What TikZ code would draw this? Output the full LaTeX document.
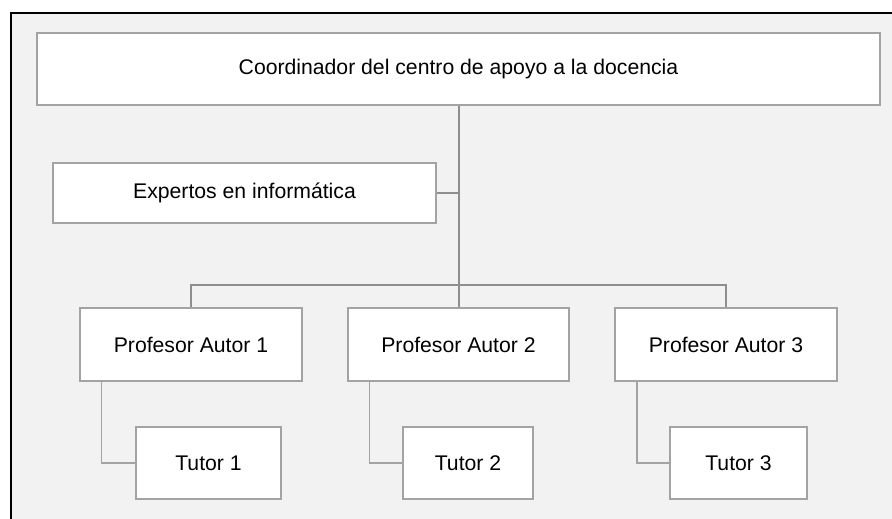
\documentclass[tikz,border=0pt]{standalone}
\usepackage{fontspec}
\setmainfont{Liberation Sans}
\definecolor{bgfill}{HTML}{F2F2F2}
\definecolor{boxline}{HTML}{A3A3A3}
\definecolor{conline}{HTML}{8E8E8E}
\begin{document}
\begin{tikzpicture}[x=1pt,y=-1pt,
  orgbox/.style={draw=boxline,line width=1.4pt,fill=white,rectangle,inner sep=0pt,
    font=\fontsize{21.2}{24}\selectfont},
  conn/.style={draw=conline,line width=1.5pt},
  tconn/.style={draw=boxline,line width=1.4pt}]
\clip (0,0) rectangle (892,519);
\fill[bgfill] (11,13) rectangle (900,530);
\draw[line width=1.6pt,black] (11,530) -- (11,13) -- (900,13);

\node[orgbox,minimum width=843pt,minimum height=72pt] (top) at (458.5,69) {Coordinador del centro de apoyo a la docencia};
\node[orgbox,minimum width=383pt,minimum height=60pt] (exp) at (244.5,193) {Expertos en informática};
\node[orgbox,minimum width=222pt,minimum height=73pt] (p1) at (191,344.5) {Profesor Autor 1};
\node[orgbox,minimum width=221pt,minimum height=73pt] (p2) at (458.5,344.5) {Profesor Autor 2};
\node[orgbox,minimum width=222pt,minimum height=73pt] (p3) at (726,344.5) {Profesor Autor 3};
\node[orgbox,minimum width=145pt,minimum height=72pt] (t1) at (208.5,463) {Tutor 1};
\node[orgbox,minimum width=130pt,minimum height=72pt] (t2) at (468,463) {Tutor 2};
\node[orgbox,minimum width=137pt,minimum height=72pt] (t3) at (738.5,463) {Tutor 3};

\coordinate (bus) at (458.5,285);
\draw[conn,line width=2pt] (top.south) -- (p2.north);
\draw[conn] (exp.east) -- (exp.east -| top.south);
\draw[conn] (p1.north) |- (bus) -| (p3.north);
\draw[tconn] ([xshift=22pt]p1.south west) |- (t1.west);
\draw[tconn] ([xshift=22pt]p2.south west) |- (t2.west);
\draw[tconn] ([xshift=22.5pt]p3.south west) |- (t3.west);
\end{tikzpicture}
\end{document}
